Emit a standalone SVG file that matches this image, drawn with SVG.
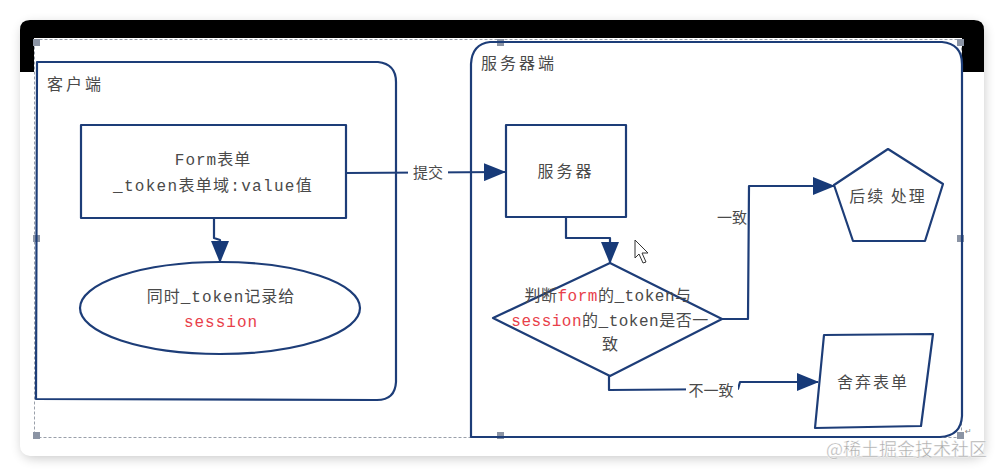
<svg xmlns="http://www.w3.org/2000/svg" width="1004" height="476" viewBox="0 0 1004 476">
<defs>
<filter id="sh" x="-5%" y="-10%" width="110%" height="120%"><feGaussianBlur stdDeviation="6"/></filter>
<marker id="ah" markerUnits="userSpaceOnUse" markerWidth="22" markerHeight="18" refX="21" refY="9" orient="auto"><path d="M0,0 L22,9 L0,18 z" fill="#173a78"/></marker>
<style>
.ln{fill:none;stroke:#1d3d78;stroke-width:2.2;stroke-linejoin:round}
.nd{fill:#fff;stroke:#1d3d78;stroke-width:2.2;stroke-linejoin:round}
.t{font-family:"Liberation Mono","Noto Sans CJK SC",monospace;font-size:16px;fill:#4a4a4a;text-anchor:middle}
.c{font-family:"Noto Sans CJK SC",sans-serif;font-size:16px;fill:#4a4a4a}
.r{fill:#e8404a}
.lb{font-family:"Noto Sans CJK SC",sans-serif;font-size:15px;fill:#4a4a4a;text-anchor:middle}
.hd{fill:#8b94a4}
</style>
</defs>
<rect width="1004" height="476" fill="#ffffff"/>
<rect x="22" y="24" width="962" height="434" rx="10" fill="#000" opacity="0.22" filter="url(#sh)"/>
<rect x="20" y="20" width="964" height="436" rx="10" fill="#ffffff"/>
<path d="M20,72 L20,30 Q20,20 30,20 L974,20 Q984,20 984,30 L984,72 L962,72 L962,38 L34,38 L34,72 Z" fill="#000"/>
<g id="selection">
<rect x="34.5" y="39.5" width="927" height="398" fill="none" stroke="#9aa0aa" stroke-width="1" stroke-dasharray="3,2"/>
<rect class="hd" x="33" y="39" width="7" height="7"/>
<rect class="hd" x="33" y="235" width="7" height="7"/>
<rect class="hd" x="33" y="432" width="7" height="7"/>
<rect class="hd" x="497" y="39" width="7" height="7"/>
<rect class="hd" x="497" y="432" width="7" height="7"/>
<rect class="hd" x="957" y="39" width="7" height="7"/>
<rect class="hd" x="957" y="235" width="7" height="7"/>
<rect class="hd" x="957" y="432" width="7" height="7"/>
</g>
<g id="client">
<path class="ln" d="M37,62 L378,62 Q396,64 396,82 L396,382 Q395,400 377,400 L36,399 Z"/>
<text class="c" x="47" y="90" letter-spacing="3" font-size="17">客户端</text>
</g>
<g id="server">
<path class="ln" d="M490,42 L942,42 Q962,44 962,64 L962,416 Q961,436 940,437 L471,437 L471,64 Q472,44 490,42 Z"/>
<text class="c" x="481" y="69" letter-spacing="3" font-size="17">服务器端</text>
</g>
<g id="connectors">
<path class="ln" d="M214,218 L214,238 L220,240 L220,262" marker-end="url(#ah)"/>
<path class="ln" d="M346,173 L505,172" marker-end="url(#ah)"/>
<rect x="408" y="162" width="40" height="20" fill="#fff"/>
<text class="lb" x="428" y="178">提交</text>
<path class="ln" d="M566,217 L566,238 L610,238 L610,263" marker-end="url(#ah)"/>
<path class="ln" d="M722,319 L748,319 L749,186 L834,186" marker-end="url(#ah)"/>
<rect x="715" y="208" width="30" height="20" fill="#fff"/>
<text class="lb" x="732" y="223">一致</text>
<path class="ln" d="M609,376 L609,390 L738,389 L740,382 L818,382" marker-end="url(#ah)"/>
<rect x="686" y="380" width="52" height="20" fill="#fff"/>
<text class="lb" x="711" y="396">不一致</text>
</g>
<g id="form">
<rect class="nd" x="81" y="125" width="265" height="93"/>
<text class="t" x="213" y="165" letter-spacing="1">Form表单</text>
<text class="t" x="213" y="191" letter-spacing="1.3">_token表单域:value值</text>
</g>
<g id="record">
<ellipse class="nd" cx="220" cy="308" rx="140" ry="46"/>
<text class="t" x="221" y="302" letter-spacing="1">同时_token记录给</text>
<text class="t" x="221" y="327" letter-spacing="1"><tspan class="r">session</tspan></text>
</g>
<g id="serverNode">
<rect class="nd" x="506" y="125" width="120" height="92"/>
<text class="c" x="566" y="177" text-anchor="middle" letter-spacing="3">服务器</text>
</g>
<g id="judge">
<polygon class="nd" points="610,263 722,319 610,376 493,318"/>
<text class="t" x="608" y="301" letter-spacing="0.5">判断<tspan class="r">form</tspan>的_token与</text>
<text class="t" x="610" y="326" letter-spacing="0.5"><tspan class="r">session</tspan>的_token是否一</text>
<text class="t" x="610" y="350">致</text>
</g>
<g id="next">
<polygon class="nd" points="888,149 943,184 925,241 853,241 834,185"/>
<text class="c" x="888" y="202" text-anchor="middle" letter-spacing="2">后续 处理</text>
</g>
<g id="discard">
<polygon class="nd" points="824,335 933,334 921,426 815,428"/>
<text class="c" x="873" y="388" text-anchor="middle" letter-spacing="2">舍弃表单</text>
</g>
<g id="cursor">
<path d="M635,240 L635,258 L639,254 L643,263 L646,262 L642,253 L648,253 Z" fill="#fff" stroke="#333" stroke-width="1"/>
</g>
<text x="965" y="434" font-family="DejaVu Sans,sans-serif" font-size="8" fill="#888">↵</text>
<text x="987" y="456" text-anchor="end" font-family="Noto Sans CJK SC,sans-serif" font-size="18" fill="#a9a9a9" stroke="#fff" stroke-width="0.4">@稀土掘金技术社区</text>
</svg>
